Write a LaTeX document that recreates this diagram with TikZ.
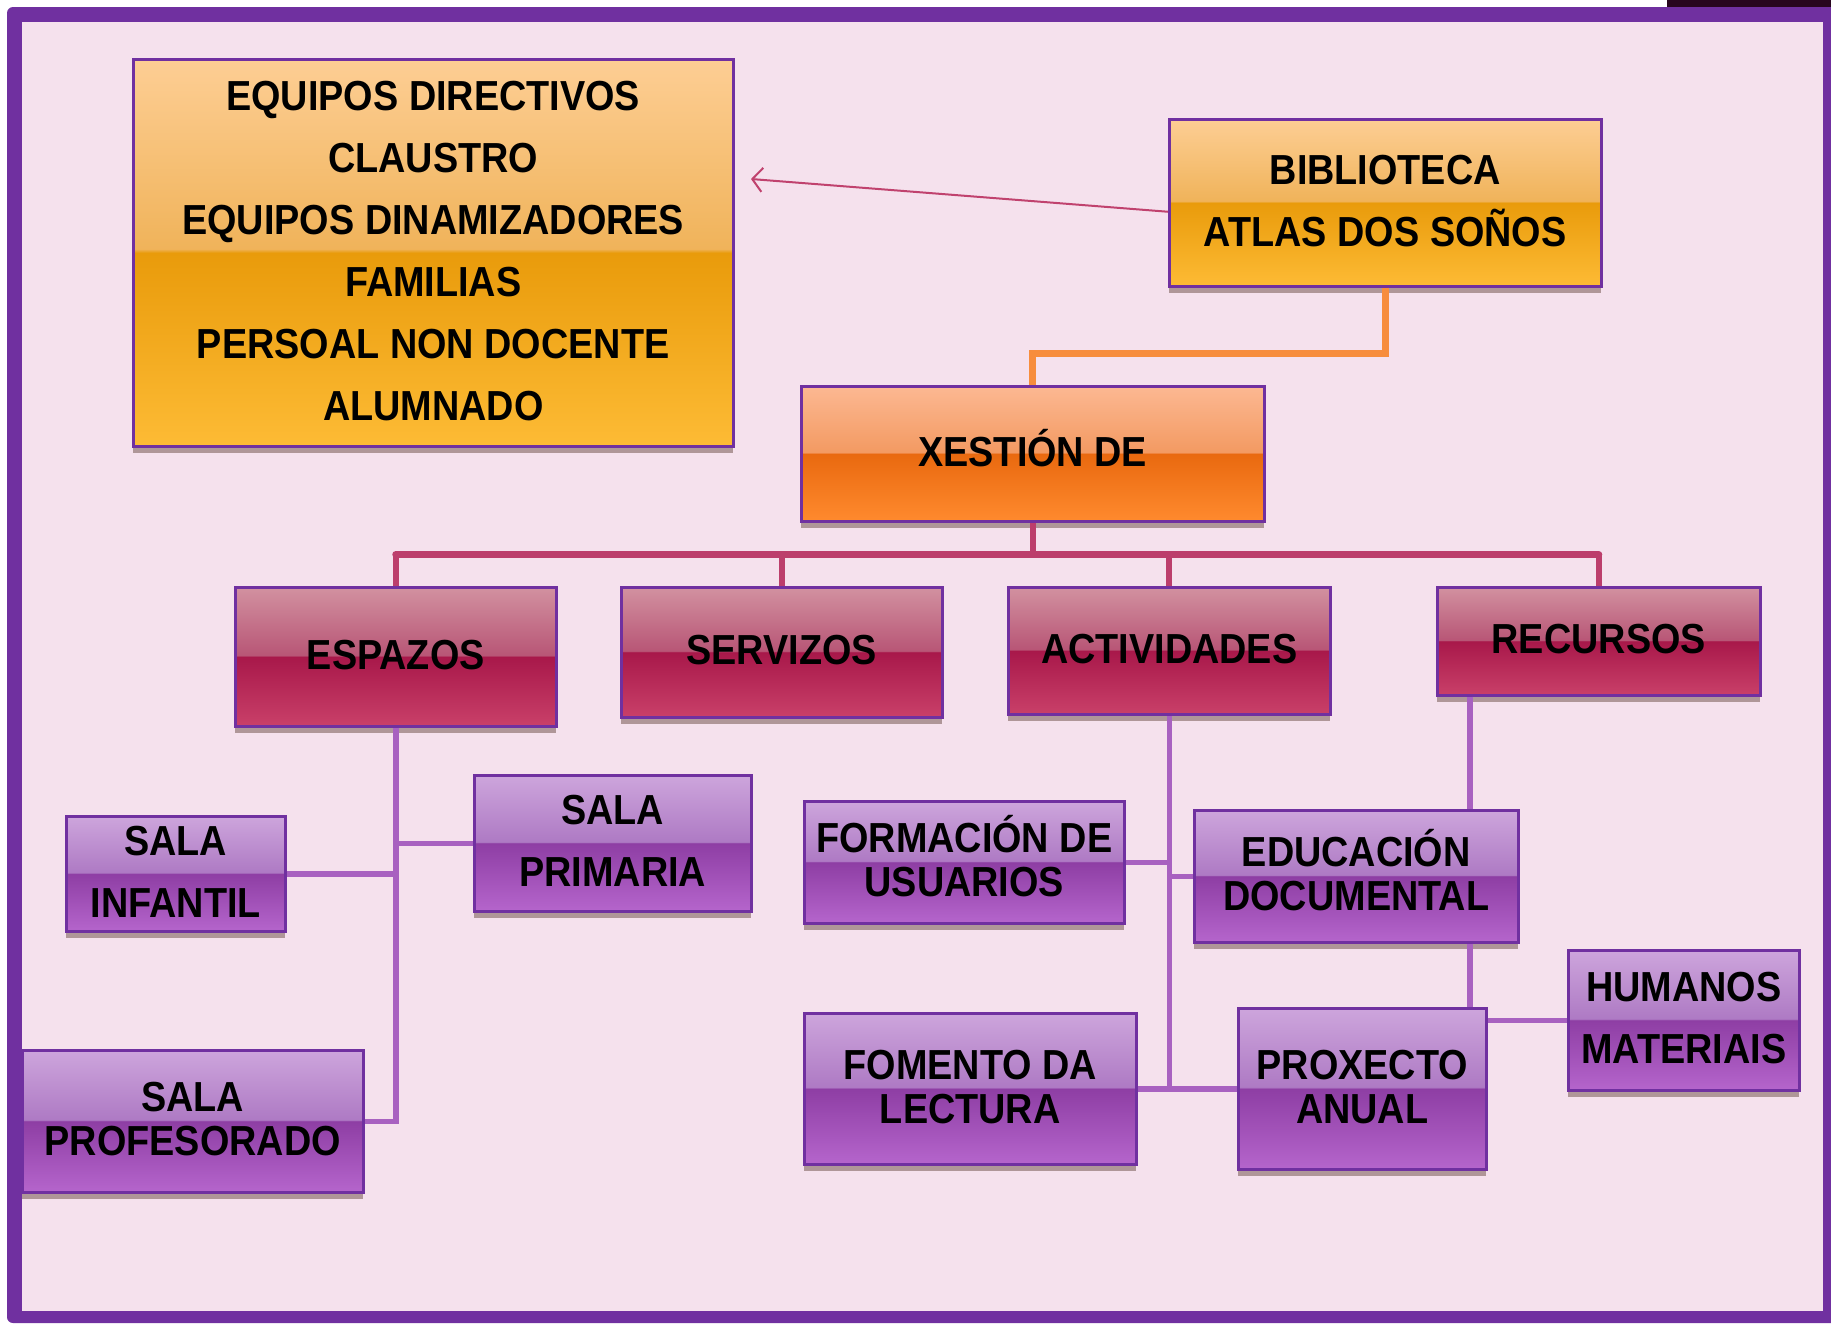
\documentclass[tikz,border=0pt]{standalone}
\usepackage{fontspec}
\setmainfont{Liberation Sans}[FakeStretch=0.9]
\usetikzlibrary{arrows.meta,shadows,calc}
\definecolor{framepurple}{RGB}{112,48,160}
\definecolor{bgpink}{RGB}{245,225,237}
\definecolor{darkcorner}{RGB}{40,6,30}
% orange-yellow
\definecolor{ot}{RGB}{253,206,148}\definecolor{omu}{RGB}{240,179,90}
\definecolor{oml}{RGB}{233,155,11}\definecolor{ob}{RGB}{253,187,53}
% orange
\definecolor{xt}{RGB}{252,184,146}\definecolor{xmu}{RGB}{243,154,98}
\definecolor{xml}{RGB}{233,105,15}\definecolor{xb}{RGB}{255,138,46}
% crimson
\definecolor{ct}{RGB}{210,145,160}\definecolor{cmu}{RGB}{184,86,118}
\definecolor{cml}{RGB}{168,24,74}\definecolor{cb}{RGB}{201,64,105}
% purple
\definecolor{pt}{RGB}{205,165,220}\definecolor{pmu}{RGB}{174,122,196}
\definecolor{pml}{RGB}{142,62,164}\definecolor{pb}{RGB}{181,101,204}
% connectors
\definecolor{arrowred}{RGB}{192,66,110}
\definecolor{connorange}{RGB}{247,141,61}
\definecolor{conncrimson}{RGB}{188,62,108}
\definecolor{connpurple}{RGB}{168,97,192}
\definecolor{shadowbrown}{RGB}{90,60,50}
\pgfdeclareverticalshading{glossorange}{100bp}{color(0bp)=(ob); color(25bp)=(ob); color(50bp)=(oml); color(50.5bp)=(omu); color(75bp)=(ot); color(100bp)=(ot)}
\pgfdeclareverticalshading{glossxest}{100bp}{color(0bp)=(xb); color(25bp)=(xb); color(50bp)=(xml); color(50.5bp)=(xmu); color(75bp)=(xt); color(100bp)=(xt)}
\pgfdeclareverticalshading{glosscrimson}{100bp}{color(0bp)=(cb); color(25bp)=(cb); color(50bp)=(cml); color(50.5bp)=(cmu); color(75bp)=(ct); color(100bp)=(ct)}
\pgfdeclareverticalshading{glosspurple}{100bp}{color(0bp)=(pb); color(25bp)=(pb); color(50bp)=(pml); color(50.5bp)=(pmu); color(75bp)=(pt); color(100bp)=(pt)}
\tikzset{
  box/.style={draw=framepurple, line width=2.5pt, anchor=north west, inner sep=0pt,
    align=center, text=black, font=\bfseries\fontsize{42}{62}\selectfont,
    text height=25pt, text depth=0pt,
    drop shadow={opacity=0.45, fill=shadowbrown, shadow xshift=0pt, shadow yshift=-7pt}},
  tight/.style={font=\bfseries\fontsize{42}{44}\selectfont, text height=69pt},
  twolines/.style={text height=87pt},
  sixlines/.style={text height=335pt},
  orangebox/.style={box, shading=glossorange},
  xestbox/.style={box, shading=glossxest},
  crimsonbox/.style={box, shading=glosscrimson},
  purplebox/.style={box, shading=glosspurple},
  arrowline/.style={draw=arrowred, line width=2pt, -{Straight Barb[length=10pt,width=24pt,line width=2pt]}},
  orangeline/.style={draw=connorange, line width=7pt},
  crimsonline/.style={draw=conncrimson, line width=6pt},
  crimsonbus/.style={draw=conncrimson, line width=7pt, line cap=round},
  purpleline/.style={draw=connpurple, line width=5.5pt},
}
\begin{document}
\begin{tikzpicture}[x=1pt,y=-1pt]
\useasboundingbox (0,0) rectangle (1831,1323);
% frame
\fill[white] (0,0) rectangle (1831,1323);
\fill[darkcorner] (1667,0) rectangle (1831,7);
\fill[framepurple, rounded corners=6pt] (7,7) rectangle (1850,1323);
\fill[bgpink] (22,22) rectangle (1823,1311);

\node[orangebox, sixlines, minimum width=600pt, minimum height=387pt] (members) at (132,58)
  {EQUIPOS DIRECTIVOS\\CLAUSTRO\\EQUIPOS DINAMIZADORES\\FAMILIAS\\PERSOAL NON DOCENTE\\ALUMNADO};
\node[orangebox, twolines, minimum width=432pt, minimum height=167pt] (bib) at (1168,118)
  {BIBLIOTECA\\ATLAS DOS SOÑOS};
\node[xestbox, minimum width=463pt, minimum height=135pt] (xest) at (800,385) {XESTIÓN DE};

\coordinate (arrtip) at (751,179);
\draw[arrowline] ([yshift=-9pt]bib.west) -- (arrtip);
\draw[orangeline] (bib.south) -- ++(0,66) -| (xest.north);
\coordinate (hub) at ($(xest.south)+(0,32)$);
\draw[crimsonline] (xest.south) -- (hub);

\node[crimsonbox, minimum width=321pt, minimum height=139pt] (espazos) at (234,586) {ESPAZOS};
\node[crimsonbox, minimum width=321pt, minimum height=130pt] (servizos) at (620,586) {SERVIZOS};
\node[crimsonbox, minimum width=322pt, minimum height=127pt] (actividades) at (1007,586) {ACTIVIDADES};
\node[crimsonbox, minimum width=323pt, minimum height=108pt] (recursos) at (1436,586) {RECURSOS};

\draw[crimsonbus] (hub -| espazos.north) -- (hub -| recursos.north);
\draw[crimsonline] (hub -| espazos.north) -- (espazos.north);
\draw[crimsonline] (hub -| servizos.north) -- (servizos.north);
\draw[crimsonline] (hub -| actividades.north) -- (actividades.north);
\draw[crimsonline] (hub -| recursos.north) -- (recursos.north);

\node[purplebox, twolines, minimum width=219pt, minimum height=115pt] (infantil) at (65,815) {SALA\\INFANTIL};
\node[purplebox, twolines, minimum width=277pt, minimum height=136pt] (primaria) at (473,774) {SALA\\PRIMARIA};
\node[purplebox, tight, minimum width=341pt, minimum height=142pt] (profesorado) at (21,1049) {SALA\\PROFESORADO};
\node[purplebox, tight, minimum width=320pt, minimum height=122pt] (formacion) at (803,800) {FORMACIÓN DE\\USUARIOS};
\node[purplebox, tight, minimum width=324pt, minimum height=132pt] (educacion) at (1193,809) {EDUCACIÓN\\DOCUMENTAL};
\node[purplebox, tight, minimum width=332pt, minimum height=151pt] (fomento) at (803,1012) {FOMENTO DA\\LECTURA};
\node[purplebox, tight, minimum width=248pt, minimum height=161pt] (proxecto) at (1237,1007) {PROXECTO\\ANUAL};
\node[purplebox, twolines, minimum width=231pt, minimum height=140pt] (humanos) at (1567,949) {HUMANOS\\MATERIAIS};

% espazos tree
\draw[purpleline] (espazos.south) |- (profesorado.east);
\draw[purpleline] (infantil.east) -- (infantil.east -| espazos.south);
\draw[purpleline] (primaria.west) -- (primaria.west -| espazos.south);
% actividades tree
\draw[purpleline] (actividades.south) -- (actividades.south |- fomento.east);
\draw[purpleline] (fomento.east) -- (proxecto.west);
\draw[purpleline] (formacion.east) -- (formacion.east -| actividades.south);
\draw[purpleline] (educacion.west) -- (educacion.west -| actividades.south);
% recursos tree
\coordinate (rx) at ([xshift=34pt]recursos.south west);
\draw[purpleline] (rx) -- (rx |- educacion.north);
\draw[purpleline] (rx |- educacion.south) -- (rx |- proxecto.north);
\draw[purpleline] (humanos.west) -- (humanos.west -| proxecto.east);
\end{tikzpicture}
\end{document}
